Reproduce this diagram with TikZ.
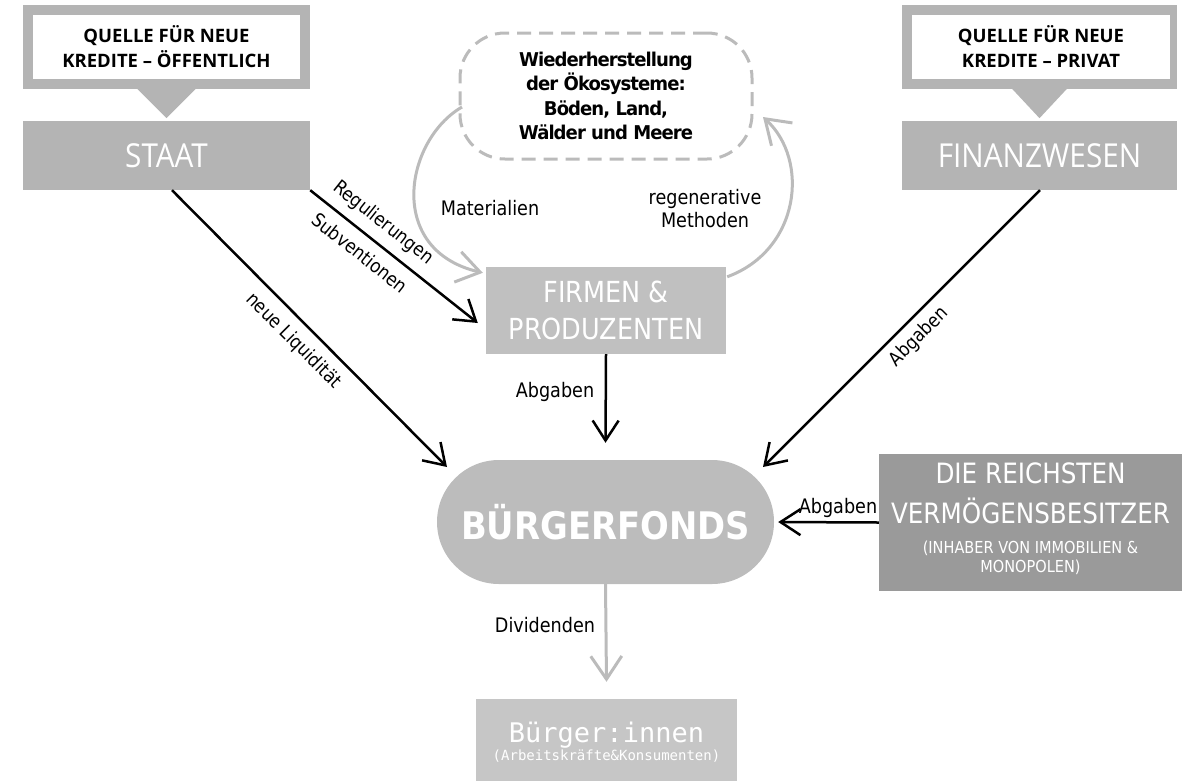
\documentclass[tikz,border=0pt]{standalone}
\usepackage{fontspec}
\usetikzlibrary{arrows.meta,calc}
\newfontfamily\tah[FakeStretch=0.88]{DejaVu Sans}
\newfontfamily\ecof[FakeStretch=0.95,LetterSpace=-5]{DejaVu Sans}
\newfontfamily\fondsf[FakeStretch=0.89]{DejaVu Sans}
\newfontfamily\myr[FakeStretch=0.9]{Open Sans}
\newfontfamily\osans{Open Sans}
\newfontfamily\monof{DejaVu Sans Mono}
\definecolor{boxgray}{HTML}{B4B4B4}
\definecolor{firmgray}{HTML}{C0C0C0}
\definecolor{fondsgray}{HTML}{BCBCBC}
\definecolor{reichgray}{HTML}{9A9A9A}
\definecolor{buergergray}{HTML}{C6C6C6}
\definecolor{arcgray}{HTML}{BBBBBB}
\begin{document}
\begin{tikzpicture}[x=1pt,y=-1pt,
  box/.style={fill=#1, inner sep=0pt, text=white, align=center},
  lbl/.style={font=\tah\fontsize{20}{23}\selectfont, text=black, inner sep=0pt, align=center},
  rlbl/.style={font=\tah\fontsize{19}{22}\selectfont, text=black, inner sep=0pt},
  barb/.style={-{Straight Barb[length=20pt,width=26pt]}, line width=2.5pt, black},
  graybarb/.style={-{Straight Barb[length=23pt,width=31pt]}, line width=3pt, draw=arcgray},
  callouttxt/.style={fill=white, inner sep=0pt, align=center, font=\osans\bfseries\fontsize{18.5}{25}\selectfont}
]
\useasboundingbox (0,0) rectangle (1183,780);

% left callout
\node[box=boxgray, minimum width=287pt, minimum height=84pt] (qpubbg) at (166.5,47) {};
\fill[boxgray] ($(qpubbg.south)+(-30,-1)$) -- ($(qpubbg.south)+(30,-1)$) -- ($(qpubbg.south)+(0,29)$) -- cycle;
\node[callouttxt, minimum width=267pt, minimum height=64pt] (qpub) at (qpubbg) {QUELLE FÜR NEUE\\KREDITE – ÖFFENTLICH};
\node[box=boxgray, minimum width=287pt, minimum height=69pt, font=\myr\fontsize{33}{33}\selectfont] (staat) at (166.5,155.5) {STAAT};

% right callout
\node[box=boxgray, minimum width=275pt, minimum height=84pt] (qprivbg) at (1039.5,47) {};
\fill[boxgray] ($(qprivbg.south)+(-28,-1)$) -- ($(qprivbg.south)+(28,-1)$) -- ($(qprivbg.south)+(0,29)$) -- cycle;
\node[callouttxt, minimum width=258pt, minimum height=64pt] (qpriv) at (1041,47) {QUELLE FÜR NEUE\\KREDITE – PRIVAT};
\node[box=boxgray, minimum width=275pt, minimum height=69pt, font=\myr\fontsize{33}{33}\selectfont] (finanz) at (1039.5,155.5) {FINANZWESEN};

% ecosystem
\node[draw=arcgray, dash pattern=on 14pt off 8pt, line width=3pt, rounded corners=45pt,
      minimum width=292pt, minimum height=126pt, inner sep=0pt, align=center,
      font=\ecof\bfseries\fontsize{19}{24.3}\selectfont] (eco) at (606,96)
      {Wiederherstellung\\der Ökosysteme:\\Böden, Land,\\Wälder und Meere};

% firms
\node[box=firmgray, minimum width=240pt, minimum height=87pt, font=\tah\fontsize{29}{37}\selectfont] (firmen) at (606,310.5) {FIRMEN \&\\PRODUZENTEN};

% fund
\node[box=fondsgray, rounded corners=62pt, minimum width=337pt, minimum height=124pt, font=\fondsf\bfseries\fontsize{38}{38}\selectfont] (fonds) at (605.5,522) {BÜRGERFONDS};

% richest
\node[box=reichgray, minimum width=303pt, minimum height=137pt] (reich) at (1030.5,522.5) {};
\node[text=white, inner sep=0pt, anchor=base, font=\tah\fontsize{28}{28}\selectfont] (reich1) at (1030.5,483) {DIE REICHSTEN};
\node[text=white, inner sep=0pt, anchor=base, font=\tah\fontsize{28}{28}\selectfont] (reich2) at (1030.5,523) {VERMÖGENSBESITZER};
\node[text=white, inner sep=0pt, anchor=base, font=\tah\fontsize{16.5}{19}\selectfont] (reich3) at (1030.5,553) {(INHABER VON IMMOBILIEN \&};
\node[text=white, inner sep=0pt, anchor=base, font=\tah\fontsize{16.5}{19}\selectfont] (reich4) at (1030.5,572) {MONOPOLEN)};

% citizens
\node[box=buergergray, minimum width=261pt, minimum height=91pt] (buerger) at (606.5,744.5) {};
\node[text=white, inner sep=0pt, anchor=base, font=\monof\fontsize{27}{27}\selectfont] (buerger1) at (606.5,742) {Bürger:innen};
\node[text=white, inner sep=0pt, anchor=base, font=\monof\fontsize{14}{14}\selectfont] (buerger2) at (606.5,760) {(Arbeitskräfte\&Konsumenten)};

% connectors
\draw[barb] (staat.south east) -- ($(firmen.west)+(-8,12.5)$);
\draw[barb] ($(staat.south)+(5.5,0)$) -- ($(fonds.center)+(-158.5,-55)$);
\draw[barb] (firmen.south) -- ($(fonds.north)+(0,-17)$);
\draw[barb] ($(finanz.south)+(0.5,0)$) -- ($(fonds.center)+(157.5,-55)$);
\draw[barb] (reich.west) -- ($(fonds.east)+(4,0)$);
\draw[graybarb] (fonds.south) -- ($(buerger.north)+(0,-17)$);
\draw[graybarb] ($(eco.center)+(-144,11)$) .. controls (405,140) and (385,250) .. ($(firmen.north west)+(-3,6)$);
\draw[graybarb] ($(firmen.north east)+(1,10)$) .. controls (800,250) and (810,160) .. ($(eco.center)+(157,21)$);

% labels
\node[lbl] (lmat) at (490,208) {Materialien};
\node[lbl] (lreg) at (705,208.5) {regenerative\\Methoden};
\node[lbl] (labg1) at (555,392) {Abgaben};
\node[lbl] (ldiv) at (545,625) {Dividenden};
\node[lbl] (labg2) at (838,508) {Abgaben};
\node[rlbl, rotate=-38.4] (lregu) at (383,223) {Regulierungen};
\node[rlbl, rotate=-38.4] (lsubv) at (360,253) {Subventionen};
\node[rlbl, rotate=-45] (lliq) at (293.5,341) {neue Liquidität};
\node[rlbl, rotate=45] (labg3) at (919,337) {Abgaben};
\end{tikzpicture}
\end{document}
